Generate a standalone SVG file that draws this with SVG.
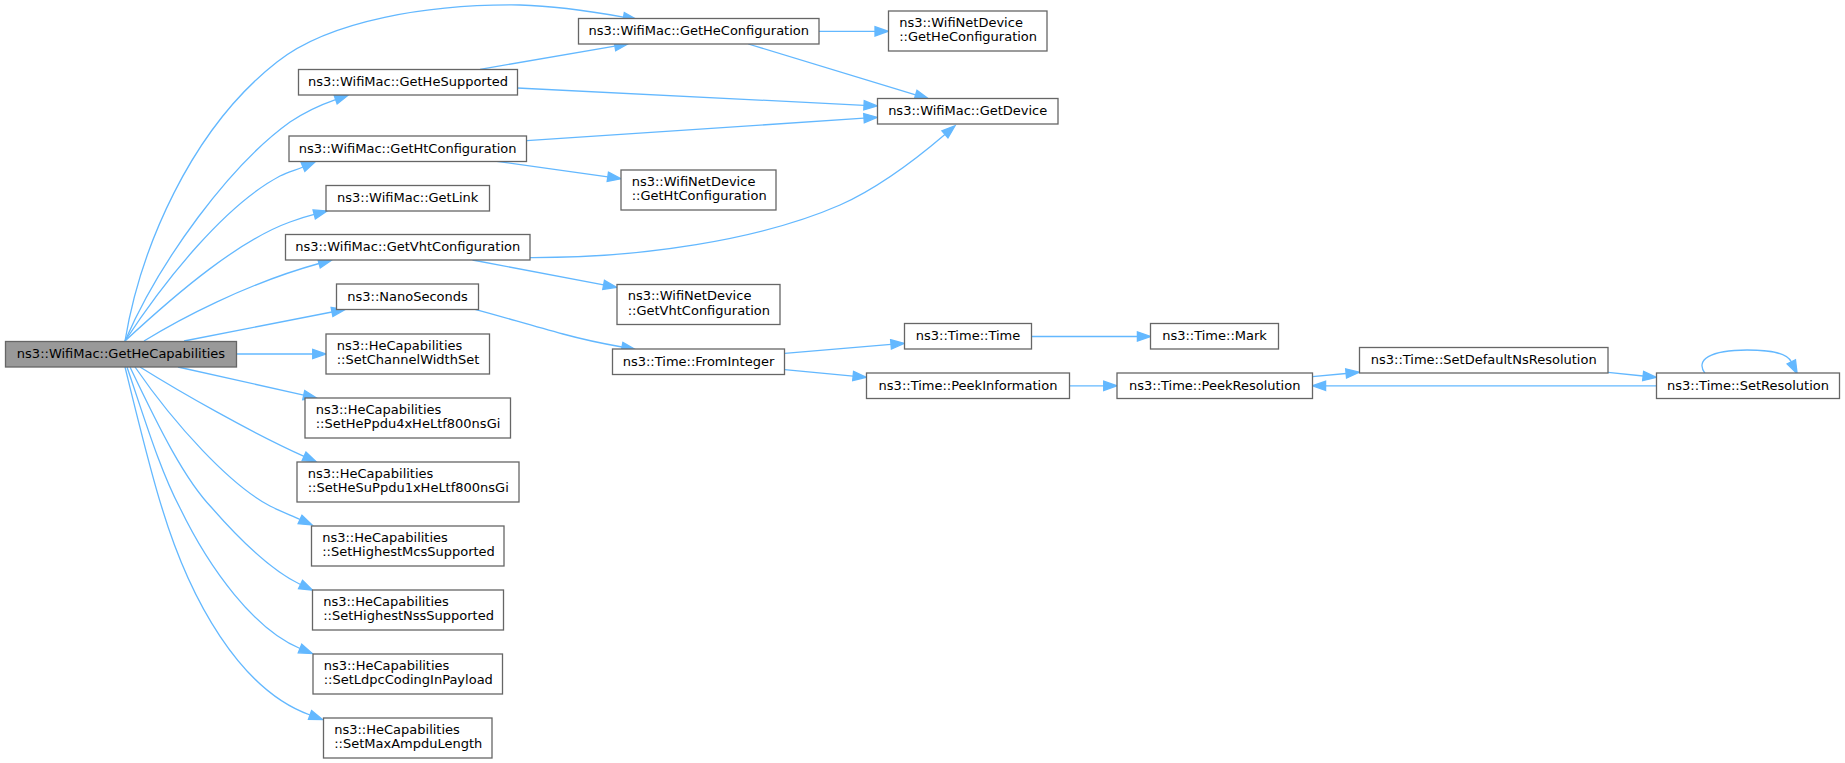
<svg xmlns="http://www.w3.org/2000/svg" width="1845" height="763" viewBox="0 0 1845 763">
<style>
.n rect{fill:#ffffff;stroke:#666666;stroke-width:1.3}
.m rect{fill:#999999;stroke:#666666;stroke-width:1.3}
text{font-family:"DejaVu Sans","Liberation Sans",sans-serif;font-size:13px;fill:#000000}
.c{text-anchor:middle}
.e path{fill:none;stroke:#63b8ff;stroke-width:1.3;marker-end:url(#ah)}
</style>
<defs>
<marker id="ah" viewBox="-1 -6 16 12" refX="0" refY="0" markerWidth="16" markerHeight="12" markerUnits="userSpaceOnUse" orient="auto" overflow="visible">
<path d="M0,-4.67 L13.3,0 L0,4.67 Z" fill="#63b8ff" stroke="#63b8ff" stroke-width="1.3"/>
</marker>
</defs>
<rect x="0" y="0" width="1845" height="763" fill="#ffffff"/>
<g id="edges" class="e">
<path d="M125,341 C140,250 190,130 277,62 C330,20 430,4 520,5 C560,6 595,12 623.5,17.1"/>
<path d="M125,341 C160,260 230,165 290,122 C305,112 320,105 335.6,99.6"/>
<path d="M125,341 C165,280 225,205 280,176 C288,172 296,170 303,167"/>
<path d="M125,341 C180,290 240,240 290,222 C298,219 306,216.5 314.2,214.4"/>
<path d="M144,341 C178,320 245,284 319,263.5"/>
<path d="M184,341 C230,332 290,320 332,312"/>
<path d="M236.7,354 L312.7,354"/>
<path d="M178,367 L303.7,395.1"/>
<path d="M140,367 C180,392 250,432 304,456.3"/>
<path d="M135,367 C175,425 230,485 270,506 C280,511 290,515 300,519.5"/>
<path d="M130,367 C160,430 185,480 212,508 C240,540 270,570 300.5,584.5"/>
<path d="M127,367 C145,420 160,470 180,508 C210,570 255,630 300,648.5"/>
<path d="M125,367 C138,420 150,470 162,508 C190,600 240,690 310,715"/>
<path d="M480,69.3 L614.9,46.2"/>
<path d="M517.3,88 L864,105.3"/>
<path d="M526.7,140.7 L864,118.2"/>
<path d="M496.7,161.3 L607.8,176.8"/>
<path d="M819,31.3 L875,31.3"/>
<path d="M748.3,44 L915.6,94.8"/>
<path d="M530,257.7 C640,258 760,240 840,205 C880,187 915,160 944.9,134.4"/>
<path d="M472.5,260 L603.6,284.8"/>
<path d="M475,309.3 C500,316 530,325 563,334 C585,340 605,344 622,347"/>
<path d="M784.7,353.3 L891,344.4"/>
<path d="M784.7,369.7 L853.1,376.1"/>
<path d="M1031.3,336.5 L1137.4,336.5"/>
<path d="M1069.3,385.8 L1103.7,385.8"/>
<path d="M1312.3,376.7 L1346.1,373.5"/>
<path d="M1608,372.3 L1643.1,376"/>
<path d="M1656.3,385.8 L1325.6,385.8"/>
<path d="M1705,373.3 C1695,360 1710,350 1747,350 C1772,350 1787,353 1791.3,361.8"/>
</g>
<g id="n0" class="m"><rect x="5.5" y="341.5" width="231" height="25.5"/><text class="c" x="121" y="358">ns3::WifiMac::GetHeCapabilities</text></g>
<g id="n1" class="n"><rect x="578.5" y="18.5" width="240.5" height="25.5"/><text class="c" x="698.7" y="35">ns3::WifiMac::GetHeConfiguration</text></g>
<g id="n2" class="n"><rect x="888.5" y="11" width="158.5" height="40"/><text x="899.2" y="26.7">ns3::WifiNetDevice</text><text x="899.2" y="41.4">::GetHeConfiguration</text></g>
<g id="n3" class="n"><rect x="877.5" y="98.5" width="180.5" height="25.5"/><text class="c" x="967.7" y="115">ns3::WifiMac::GetDevice</text></g>
<g id="n4" class="n"><rect x="298.5" y="69.5" width="219" height="25.5"/><text class="c" x="408" y="86">ns3::WifiMac::GetHeSupported</text></g>
<g id="n5" class="n"><rect x="289" y="136" width="237.5" height="25.5"/><text class="c" x="407.7" y="152.5">ns3::WifiMac::GetHtConfiguration</text></g>
<g id="n6" class="n"><rect x="621" y="170" width="155" height="40"/><text x="631.7" y="185.7">ns3::WifiNetDevice</text><text x="631.7" y="200.4">::GetHtConfiguration</text></g>
<g id="n7" class="n"><rect x="326" y="185.5" width="163.5" height="25.5"/><text class="c" x="407.7" y="202">ns3::WifiMac::GetLink</text></g>
<g id="n8" class="n"><rect x="285.5" y="234.5" width="244.5" height="25.5"/><text class="c" x="407.7" y="251">ns3::WifiMac::GetVhtConfiguration</text></g>
<g id="n9" class="n"><rect x="617" y="284.5" width="163" height="40"/><text x="627.7" y="300.2">ns3::WifiNetDevice</text><text x="627.7" y="314.9">::GetVhtConfiguration</text></g>
<g id="n10" class="n"><rect x="336.5" y="284" width="142" height="25.5"/><text class="c" x="407.5" y="300.5">ns3::NanoSeconds</text></g>
<g id="n11" class="n"><rect x="612.5" y="349" width="172" height="25.5"/><text class="c" x="698.5" y="365.5">ns3::Time::FromInteger</text></g>
<g id="n12" class="n"><rect x="904.5" y="323.5" width="127" height="25.5"/><text class="c" x="968" y="340">ns3::Time::Time</text></g>
<g id="n13" class="n"><rect x="1150.5" y="323.5" width="128" height="25.5"/><text class="c" x="1214.5" y="340">ns3::Time::Mark</text></g>
<g id="n14" class="n"><rect x="866.5" y="373" width="203" height="25.5"/><text class="c" x="968" y="389.5">ns3::Time::PeekInformation</text></g>
<g id="n15" class="n"><rect x="1117" y="373" width="195.5" height="25.5"/><text class="c" x="1214.7" y="389.5">ns3::Time::PeekResolution</text></g>
<g id="n16" class="n"><rect x="1359.5" y="347.5" width="248.5" height="25.5"/><text class="c" x="1483.7" y="364">ns3::Time::SetDefaultNsResolution</text></g>
<g id="n17" class="n"><rect x="1656.5" y="373" width="183" height="25.5"/><text class="c" x="1748" y="389.5">ns3::Time::SetResolution</text></g>
<g id="n18" class="n"><rect x="326" y="334" width="163.5" height="40"/><text x="336.7" y="349.7">ns3::HeCapabilities</text><text x="336.7" y="364.4">::SetChannelWidthSet</text></g>
<g id="n19" class="n"><rect x="305" y="398" width="205.5" height="40"/><text x="315.7" y="413.7">ns3::HeCapabilities</text><text x="315.7" y="428.4">::SetHePpdu4xHeLtf800nsGi</text></g>
<g id="n20" class="n"><rect x="297" y="462" width="222" height="40"/><text x="307.7" y="477.7">ns3::HeCapabilities</text><text x="307.7" y="492.4">::SetHeSuPpdu1xHeLtf800nsGi</text></g>
<g id="n21" class="n"><rect x="311.5" y="526" width="192.5" height="40"/><text x="322.2" y="541.7">ns3::HeCapabilities</text><text x="322.2" y="556.4">::SetHighestMcsSupported</text></g>
<g id="n22" class="n"><rect x="312.5" y="590" width="191" height="40"/><text x="323.2" y="605.7">ns3::HeCapabilities</text><text x="323.2" y="620.4">::SetHighestNssSupported</text></g>
<g id="n23" class="n"><rect x="313" y="654" width="189.5" height="40"/><text x="323.7" y="669.7">ns3::HeCapabilities</text><text x="323.7" y="684.4">::SetLdpcCodingInPayload</text></g>
<g id="n24" class="n"><rect x="323.5" y="718" width="168.5" height="40"/><text x="334.2" y="733.7">ns3::HeCapabilities</text><text x="334.2" y="748.4">::SetMaxAmpduLength</text></g>
</svg>
